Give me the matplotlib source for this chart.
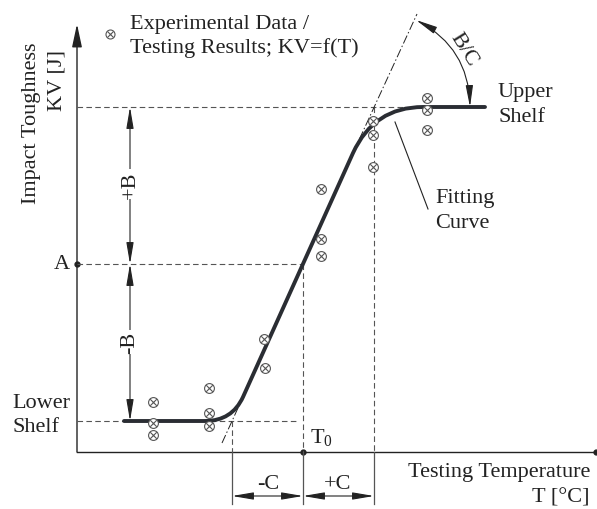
import numpy as np
import matplotlib.pyplot as plt
from matplotlib.path import Path
from matplotlib.patches import PathPatch, FancyArrowPatch

plt.rcParams['font.family'] = 'Liberation Serif'
plt.rcParams['mathtext.fontset'] = 'custom'
plt.rcParams['mathtext.rm'] = 'Liberation Serif'
plt.rcParams['mathtext.it'] = 'Liberation Serif'

# key levels of the schematic (pixel-like units, y grows downward)
x_axis0, x_axis1 = 77, 596
y_axis_top, y_base = 25, 453
y_upper, y_A, y_lower = 108, 265, 422
x_minus_c, x_t0, x_plus_c = 232, 303, 374

# fitting curve knots: lower shelf, knee, linear part, knee, upper shelf
curve_x = [124, 205, 232, 243, 353, 374, 423, 485]
curve_y = [422, 422, 422, 398, 154, 108, 108, 108]

# experimental points
pts_x = [153, 153, 153, 209, 209, 209, 264, 265, 321, 321, 321, 373, 373, 373, 427, 427, 427]
pts_y = [403, 424, 436, 389, 414, 427, 340, 369, 190, 240, 257, 122, 136, 168, 99, 111, 131]

ink = '#222222'
grey = '#555555'

fig = plt.figure(figsize=(5.97, 5.10), dpi=100)
ax = fig.add_axes([0, 0, 1, 1])
ax.set_xlim(0, 597)
ax.set_ylim(510, 0)
ax.axis('off')

# axes
ax.add_patch(FancyArrowPatch((x_axis0, y_base), (x_axis0, y_axis_top), arrowstyle='-|>,head_length=1.4,head_width=0.3',
                             mutation_scale=10, color=ink, lw=1.0, shrinkA=0, shrinkB=0))
ax.plot([x_axis0, x_axis1], [y_base, y_base], color=ink, lw=1.0)
ax.plot([x_axis0, x_t0, x_axis1], [y_A, y_base, y_base], 'o', color=ink, ms=3.5, ls='none')

# dashed helper lines
dash = dict(color=grey, lw=0.8, ls=(0, (5, 3)))
ax.plot([x_axis0, 423], [y_upper, y_upper], **dash)
ax.plot([x_axis0, x_t0], [y_A, y_A], **dash)
ax.plot([x_axis0, 297], [y_lower, y_lower], **dash)
ax.plot([x_t0, x_t0], [y_A, y_base], **dash)
ax.plot([x_plus_c, x_plus_c], [y_upper, y_base], **dash)
ax.plot([x_minus_c, x_minus_c], [y_lower, y_base], **dash)

# extension lines below the axis
for xx in [x_minus_c, x_t0, x_plus_c]:
    ax.plot([xx, xx], [y_base, 505], color=grey, lw=0.9)

# tangent (dash-dot) lines
dd = dict(color=ink, lw=0.7, ls=(0, (9, 2.5, 1.5, 2.5)))
ax.plot([222, 243], [444, 398], **dd)
ax.plot([353, 417], [154, 15], **dd)

# fitting curve
codes = [Path.MOVETO, Path.LINETO, Path.CURVE3, Path.CURVE3, Path.LINETO, Path.CURVE3, Path.CURVE3, Path.LINETO]
curve = Path(np.column_stack([curve_x, curve_y]), codes)
ax.add_patch(PathPatch(curve, fill=False, color='#2a2d33', lw=2.8, capstyle='round', joinstyle='round', zorder=3))

# experimental data markers
ax.scatter(pts_x, pts_y, s=50, facecolors='white', edgecolors=grey, linewidths=0.8, zorder=4)
ax.scatter(pts_x, pts_y, s=22, marker='x', color=grey, linewidths=0.8, zorder=5)
ax.scatter([110], [35], s=42, facecolors='white', edgecolors=grey, linewidths=0.8, zorder=4)
ax.scatter([110], [35], s=18, marker='x', color=grey, linewidths=0.8, zorder=5)

# dimension arrows
def dim(p0, p1):
    ax.add_patch(FancyArrowPatch(p0, p1, arrowstyle='<|-|>,head_length=1.3,head_width=0.22',
                                 mutation_scale=10, color=ink, lw=0.8, shrinkA=0, shrinkB=0))

dim((130, y_upper), (130, y_A))
dim((130, y_A), (130, y_lower))
dim((x_minus_c, 497), (x_t0, 497))
dim((x_t0, 497), (x_plus_c, 497))

ax.add_patch(FancyArrowPatch((416, 21), (470, y_upper), arrowstyle='<|-|>,head_length=1.3,head_width=0.22',
                             connectionstyle='arc3,rad=-0.29', mutation_scale=10, color=ink, lw=0.8,
                             shrinkA=0, shrinkB=0))

# leader to fitting curve
ax.plot([395, 428], [123, 210], color=ink, lw=0.8)

fs = 16
tk = dict(color=ink, fontsize=fs)
ax.text(130, 24, 'Experimental Data /', ha='left', va='center', **tk)
ax.text(130, 48, 'Testing Results; KV=f(T)', ha='left', va='center', **tk)
ax.text(32, 43, 'Impact Toughness', rotation=90, ha='center', va='top', **tk)
ax.text(57, 50, 'KV [J]', rotation=90, ha='center', va='top', **tk)
ax.text(62, 265, 'A', ha='center', va='center', **tk)
ax.text(130, 185, '+B', rotation=90, ha='center', va='center',
        bbox=dict(facecolor='white', edgecolor='none', pad=1), **tk)
ax.text(130, 343, '-B', rotation=90, ha='center', va='center',
        bbox=dict(facecolor='white', edgecolor='none', pad=1), **tk)
ax.text(12, 404, 'Lower', ha='left', va='center', **tk)
ax.text(12, 428, 'Shelf', ha='left', va='center', **tk)
ax.text(498, 92, 'Upper', ha='left', va='center', **tk)
ax.text(498, 117, 'Shelf', ha='left', va='center', **tk)
ax.text(435, 199, 'Fitting', ha='left', va='center', **tk)
ax.text(435, 224, 'Curve', ha='left', va='center', **tk)
ax.text(464, 50, 'B/C', rotation=-58, ha='center', va='center', **tk)
ax.text(310, 438, r'T$_0$', ha='left', va='center', **tk)
ax.text(268, 485, '-C', ha='center', va='center', **tk)
ax.text(338, 485, '+C', ha='center', va='center', **tk)
ax.text(590, 473, 'Testing Temperature', ha='right', va='center', **tk)
ax.text(590, 498, 'T [°C]', ha='right', va='center', **tk)

fig.savefig('out.png', dpi=100)
